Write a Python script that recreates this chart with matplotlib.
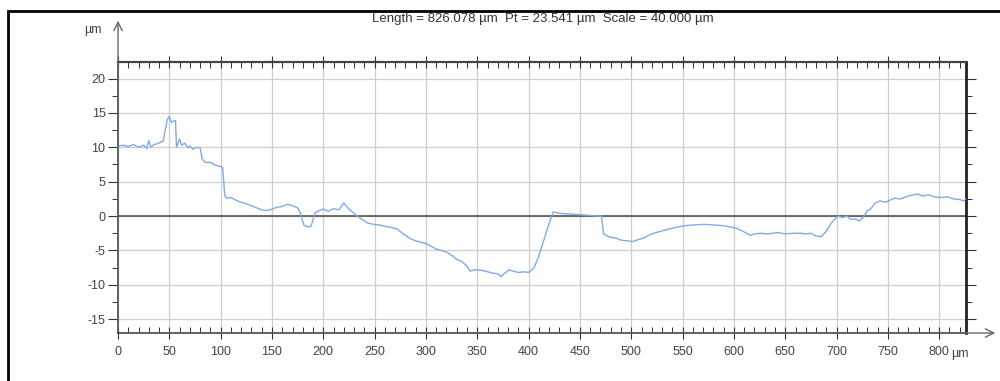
import matplotlib
matplotlib.use("Agg")
import matplotlib.pyplot as plt
from matplotlib.patches import Rectangle, FancyArrowPatch
from matplotlib.ticker import MultipleLocator

# Profile data: (position µm, height µm)
profile = [
    (0, 10.2), (5, 10.3), (10, 10.1), (15, 10.4), (20, 10.0), (25, 10.3), (28, 9.8), (30, 11.0), (32, 10.0),
    (35, 10.4), (38, 10.5), (41, 10.7), (44, 10.9), (46, 12.5), (48, 14.0), (50, 14.5), (52, 13.6), (54, 13.8),
    (56, 13.9), (57, 10.0), (60, 11.2), (62, 10.3), (65, 10.6), (68, 9.9), (70, 10.2), (73, 9.7), (76, 10.0),
    (80, 9.9), (82, 8.3), (85, 7.8), (90, 7.8), (95, 7.4), (100, 7.2), (102, 7.0), (104, 3.0), (106, 2.6),
    (110, 2.7), (115, 2.3), (120, 2.0), (125, 1.8), (130, 1.5), (135, 1.2), (140, 0.9), (145, 0.8), (150, 1.0),
    (155, 1.3), (160, 1.4), (165, 1.7), (170, 1.5), (175, 1.2), (178, 0.3), (181, -1.3), (185, -1.6),
    (188, -1.5), (192, 0.5), (196, 0.8), (200, 1.0), (205, 0.7), (210, 1.1), (215, 0.9), (220, 1.9),
    (225, 1.0), (230, 0.4), (233, 0.0), (238, -0.5), (243, -1.0), (249, -1.2), (255, -1.3), (260, -1.5),
    (265, -1.6), (272, -1.9), (278, -2.6), (285, -3.3), (290, -3.6), (295, -3.8), (300, -4.0), (305, -4.4),
    (310, -4.8), (315, -5.0), (321, -5.3), (326, -5.8), (330, -6.3), (335, -6.6), (340, -7.3), (343, -8.0),
    (348, -7.8), (355, -7.9), (360, -8.1), (365, -8.3), (370, -8.4), (373, -8.8), (376, -8.4), (381, -7.8),
    (385, -8.0), (390, -8.2), (395, -8.1), (400, -8.2), (405, -7.6), (409, -6.2), (414, -3.9), (419, -1.5),
    (424, 0.6), (430, 0.4), (440, 0.3), (450, 0.2), (460, 0.1), (466, 0.0), (471, 0.0), (473, -2.6),
    (478, -3.0), (485, -3.2), (490, -3.5), (496, -3.6), (502, -3.7), (507, -3.4), (512, -3.2), (518, -2.7),
    (524, -2.4), (529, -2.2), (536, -1.9), (545, -1.6), (552, -1.4), (560, -1.3), (571, -1.2), (580, -1.3),
    (590, -1.4), (597, -1.6), (603, -1.8), (610, -2.3), (616, -2.8), (620, -2.6), (626, -2.5), (632, -2.6),
    (638, -2.5), (643, -2.4), (650, -2.6), (657, -2.5), (665, -2.5), (670, -2.6), (675, -2.5), (680, -2.9),
    (685, -3.0), (690, -2.2), (695, -1.0), (701, 0.0), (706, -0.2), (710, 0.0), (714, -0.5), (718, -0.4),
    (722, -0.7), (726, -0.2), (730, 0.8), (733, 1.0), (737, 1.8), (742, 2.2), (748, 2.0), (756, 2.6),
    (762, 2.5), (768, 2.8), (772, 3.0), (779, 3.2), (784, 2.9), (790, 3.1), (795, 2.8), (802, 2.7),
    (808, 2.8), (814, 2.5), (820, 2.4), (824, 2.2), (826, 2.5),
]
pos = [p[0] for p in profile]
height = [p[1] for p in profile]

xticks = [0, 50, 100, 150, 200, 250, 300, 350, 400, 450, 500, 550, 600, 650, 700, 750, 800]
yticks = [20, 15, 10, 5, 0, -5, -10, -15]
title = "Length = 826.078 µm  Pt = 23.541 µm  Scale = 40.000 µm"

FONT = ["Liberation Sans", "DejaVu Sans"]
plt.rcParams['font.family'] = FONT

W, H = 1000, 381
fig = plt.figure(figsize=(W / 100, H / 100), dpi=100)
L, R, T, B = 118, 966, 62, 333
ax = fig.add_axes([L / W, 1 - B / H, (R - L) / W, (B - T) / H])

ax.plot(pos, height, color="#82aae8", lw=1.0, zorder=3)
ax.axhline(0, color="#555555", lw=1.2, zorder=2)

ax.set_xlim(0, 826.078)
ax.set_ylim(-17, 22.4)

ax.set_xticks(xticks)
ax.set_xticklabels([str(v) for v in xticks])
ax.set_yticks(yticks)
ax.set_yticklabels([str(v) for v in yticks])
ax.xaxis.set_minor_locator(MultipleLocator(10))
ax.yaxis.set_minor_locator(MultipleLocator(2.5))

ax.grid(True, which="major", color="#cfcfcf", lw=0.9, zorder=1)

ax.tick_params(axis="x", which="major", direction="inout", length=9, width=0.8, colors="#333333",
               labelsize=9, labelcolor="#444444", pad=5, top=True)
ax.tick_params(axis="x", which="minor", direction="in", length=4, width=0.7, colors="#333333", top=True)
ax.tick_params(axis="y", which="major", direction="out", length=7, width=0.8, colors="#333333",
               labelsize=9, labelcolor="#444444", pad=2, right=True)
ax.tick_params(axis="y", which="minor", direction="out", length=4, width=0.7, colors="#333333", right=True)

for s in ["top", "bottom", "left"]:
    ax.spines[s].set_color("#444444")
    ax.spines[s].set_linewidth(1.2)
ax.spines["right"].set_color("#222222")
ax.spines["right"].set_linewidth(2.0)
ax.spines["top"].set_linewidth(1.6)

# axis arrows
fig.patches.append(FancyArrowPatch(
    (L / W, 1 - B / H), (L / W, 1 - 18 / H), transform=fig.transFigure,
    arrowstyle="->,head_length=6,head_width=3", color="#666666", lw=1.0, mutation_scale=1))
fig.patches.append(FancyArrowPatch(
    (L / W, 1 - B / H), (998 / W, 1 - B / H), transform=fig.transFigure,
    arrowstyle="->,head_length=6,head_width=3", color="#666666", lw=1.0, mutation_scale=1))

fig.text(93 / W, 1 - 30 / H, "µm", fontsize=9, color="#444444", ha="center", va="center")
fig.text(951 / W, 1 - 354 / H, "µm", fontsize=9, color="#444444", ha="left", va="center")
fig.text(543 / W, 1 - 19 / H, title, fontsize=9.5, color="#333333", ha="center", va="center")

# outer frame
fig.patches.append(Rectangle((8 / W, -0.2), 1.2, 1.2 - 11 / H, transform=fig.transFigure,
                             fill=False, edgecolor="black", lw=2.0))

fig.savefig("out.png", dpi=100, facecolor="white")
